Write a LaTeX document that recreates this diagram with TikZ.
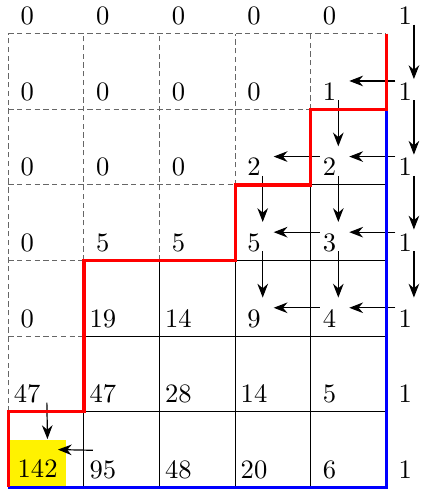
\documentclass[tikz,border=0pt]{standalone}
\usetikzlibrary{arrows.meta}
\begin{document}
\begin{tikzpicture}[x=1cm,y=1cm,
  num/.style={anchor=base, inner sep=0pt},
  dgrid/.style={black!60, dash pattern=on 2pt off 1.3pt, line width=0.4pt},
  sgrid/.style={black, line width=0.4pt},
  redpath/.style={red, line width=1.2pt},
  bluepath/.style={blue, line width=1.2pt},
  arr/.style={-{Stealth[length=5.2pt,width=4pt,inset=1.7pt]}, line width=0.45pt},
  hl/.style={fill=yellow, anchor=south west, inner sep=3.333pt, text height=11.1pt, text depth=0pt}]
\useasboundingbox (-0.11,-0.075) rectangle (5.446,6.446);
% highlighted result
\node[hl] (n-0-0) at (0,0) {142};
% dashed grid (outside the region)
\draw[dgrid] (0,6) -- (5,6);
\draw[dgrid] (0,5) -- (4,5);
\draw[dgrid] (0,4) -- (3,4);
\draw[dgrid] (0,3) -- (1,3);
\draw[dgrid] (0,2) -- (1,2);
\draw[dgrid] (0,1) -- (0,6);
\draw[dgrid] (1,3) -- (1,6);
\draw[dgrid] (2,3) -- (2,6);
\draw[dgrid] (3,4) -- (3,6);
\draw[dgrid] (4,5) -- (4,6);
% solid grid (inside the region)
\draw[sgrid] (1,1) -- (5,1);
\draw[sgrid] (1,2) -- (5,2);
\draw[sgrid] (3,3) -- (5,3);
\draw[sgrid] (4,4) -- (5,4);
\draw[sgrid] (1,0) -- (1,1);
\draw[sgrid] (2,0) -- (2,3);
\draw[sgrid] (3,0) -- (3,3);
\draw[sgrid] (4,0) -- (4,4);
% numbers
\foreach \j/\vals in {6/{0,0,0,0,0,1}, 5/{0,0,0,0,1,1}, 4/{0,0,0,2,2,1},
    3/{0,5,5,5,3,1}, 2/{0,19,14,9,4,1}, 1/{47,47,28,14,5,1}} {
  \foreach \v [count=\i from 0] in \vals {
    \node[num] (n-\i-\j) at (\i+0.25,\j+0.12) {\v};
  }
}
\foreach \v [count=\i from 1] in {95,48,20,6,1} {
  \node[num] (n-\i-0) at (\i+0.25,0.12) {\v};
}
% horizontal arrows
\foreach \s/\t/\j in {5/4/5, 5/4/4, 4/3/4, 5/4/3, 4/3/3, 5/4/2, 4/3/2}
  \draw[arr] ([shift={(-0.13,0.255)}]n-\s-\j.base) -- ([shift={(0.26,0.255)}]n-\t-\j.base);
\draw[arr] ([shift={(-0.13,0.37)}]n-1-0.base) -- ([shift={(-0.12,0.18)}]n-0-0.east);
% vertical arrows
\foreach \i/\s/\t/\d in {5/6/5/0.28, 5/5/4/0.28, 5/4/3/0.29, 5/3/2/0.39,
    4/5/4/0.39, 4/4/3/0.39, 4/3/2/0.39, 3/4/3/0.39, 3/3/2/0.39}
  \draw[arr] ([shift={(0.115,0)}]n-\i-\s.base) -- ([shift={(0.115,\d)}]n-\i-\t.base);
\draw[arr] ([shift={(0.26,0)}]n-0-1.base) -- ([xshift=0.13cm]n-0-0.north);
% boundary paths
\draw[bluepath] (5,5) -- (5,0) -- (0,0);
\draw[redpath] (5,6) -- (5,5) -- (4,5) -- (4,4) -- (3,4) -- (3,3) -- (1,3) -- (1,1) -- (0,1) -- (0,0);
\end{tikzpicture}
\end{document}
